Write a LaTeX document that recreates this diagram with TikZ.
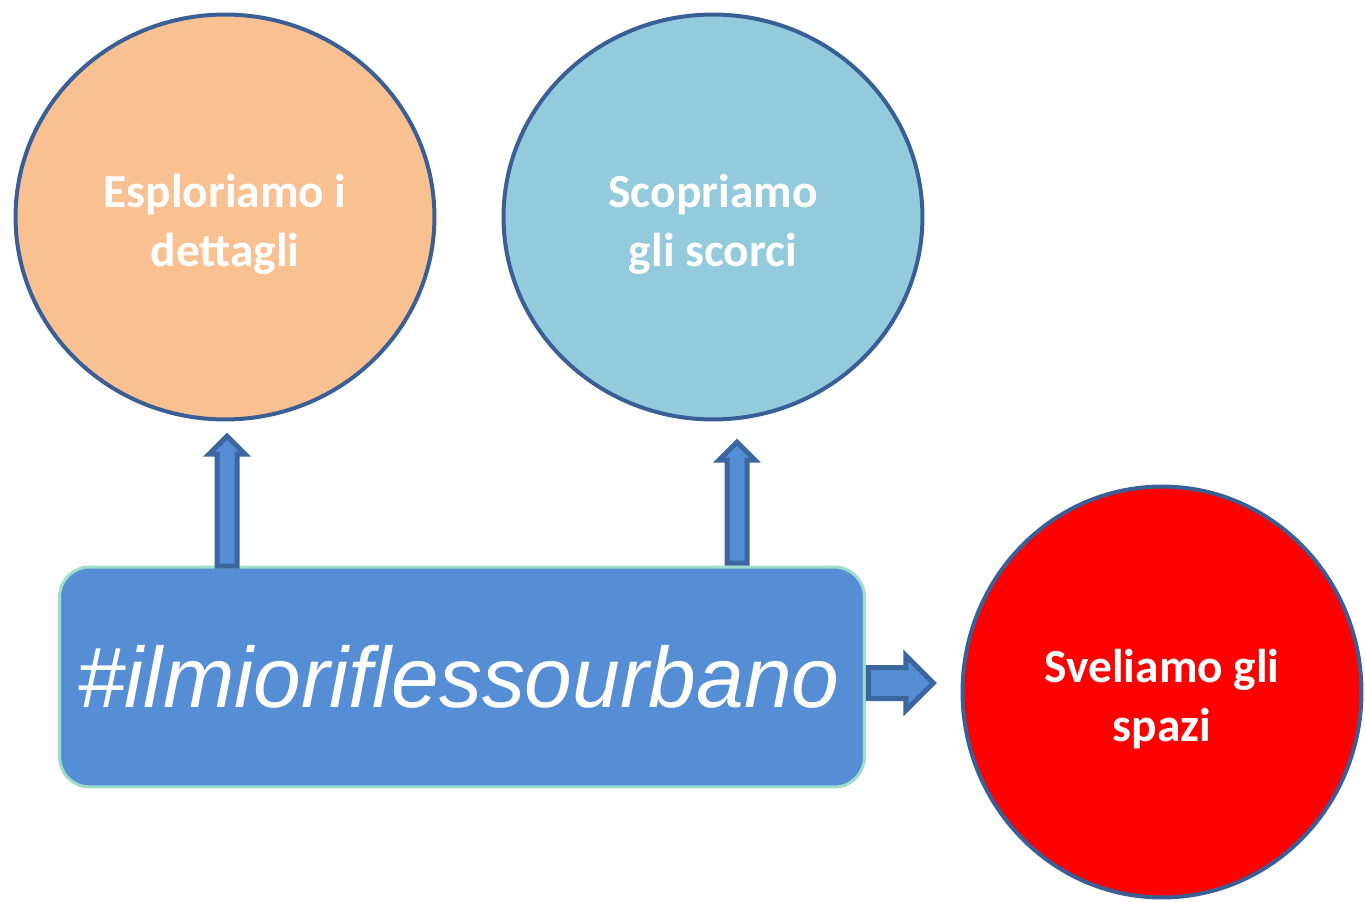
\documentclass[tikz,border=0pt]{standalone}
\usepackage{fontspec}
\setmainfont{Carlito}
\newfontfamily\arialfont{Liberation Sans}
\usepackage{tikz}
\usetikzlibrary{shapes.geometric, shapes.arrows, calc}

\definecolor{edgeblue}{HTML}{3A5F96}
\definecolor{arrowedge}{HTML}{3B66A0}
\definecolor{boxblue}{HTML}{558ED5}
\definecolor{boxedge}{HTML}{9EDDCA}
\definecolor{peach}{HTML}{F9C192}
\definecolor{aqua}{HTML}{93CBDC}

\newcommand{\tallstrut}{\rule{0pt}{1em}}

\tikzset{
    bubble/.style={ellipse, draw=edgeblue, line width=0.08cm, text=white, align=center,
        font=\fontsize{27}{33.5}\selectfont\bfseries, inner sep=0pt},
    hashbox/.style={rectangle, rounded corners=0.6cm, draw=boxedge, fill=boxblue, line width=0.06cm,
        minimum width=16.1cm, minimum height=4.4cm, text=white,
        font=\arialfont\itshape\fontsize{48.8}{48.8}\selectfont},
    blockarrow/.style={single arrow, draw=arrowedge, fill=boxblue, line width=0.1cm,
        minimum width=0pt, single arrow head extend=#1},
    uparrow/.style={blockarrow=0.16cm, inner sep=0.15cm, rotate=90, anchor=tail},
    rightarrow/.style={blockarrow=0.24cm, inner sep=0.26cm, anchor=tail}
}

\begin{document}
\begin{tikzpicture}[x=0.02cm, y=-0.02cm]
        \useasboundingbox (0,0) rectangle (1365,902);
        \node[bubble, fill=peach, minimum width=8.38cm, minimum height=8.1cm] (esp) at (225,217) {\tallstrut Esploriamo i\\dettagli};
        \node[bubble, fill=aqua, minimum width=8.38cm, minimum height=8.1cm] (sco) at (713,217) {\tallstrut Scopriamo\\gli scorci};
        \node[bubble, fill=red, minimum width=7.98cm, minimum height=8.22cm] (sve) at (1162,692) {\tallstrut Sveliamo gli\\spazi};
        \node[hashbox] (hash) at (462,677) {\hspace{-0.14cm}\#ilmioriflessourbano};
        \node[uparrow, minimum height=2.6cm] (up1) at ([xshift=0.04cm, yshift=-0.06cm]hash.north -| esp.south) {};
        \node[uparrow, minimum height=2.42cm] (up2) at ([xshift=0.48cm]hash.north -| sco.south) {};
        \node[rightarrow, minimum height=1.3cm] (right) at ([yshift=-0.12cm]hash.east) {};
    \end{tikzpicture}
\end{document}
